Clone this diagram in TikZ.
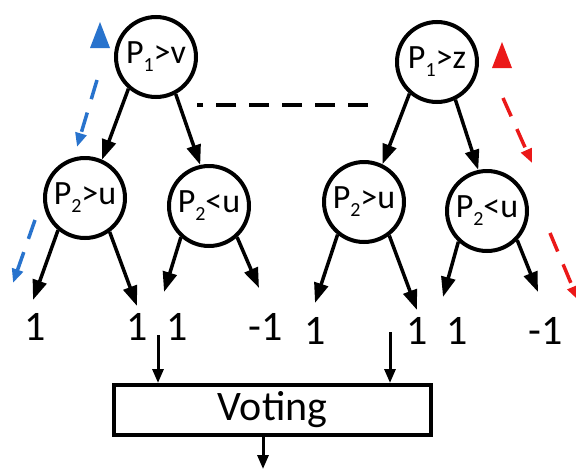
\documentclass[tikz,border=0pt]{standalone}
\usepackage{fontspec}
\setmainfont{Carlito}
\usetikzlibrary{arrows.meta}
\definecolor{myblue}{RGB}{40,115,205}
\definecolor{myred}{RGB}{235,25,25}
\newcommand{\sbs}[1]{\raisebox{-8pt}{\fontsize{20}{20}\selectfont #1}}
\begin{document}
\begin{tikzpicture}[x=1pt,y=-1pt,
  cnode/.style={circle,draw,line width=4pt,minimum size=80pt,inner sep=0pt,font=\fontsize{34}{38}\selectfont},
  leaf/.style={font=\fontsize{42}{50}\selectfont,inner sep=0pt},
  edge/.style={line width=3.5pt,-{Triangle[length=20pt,width=14pt]}},
  vin/.style={line width=3pt,-{Triangle[length=14pt,width=11pt]}},
  cdash/.style={line width=3.5pt,dash pattern=on 20pt off 14pt,-{Triangle[length=14pt,width=11pt]}}
]
\useasboundingbox (0,0) rectangle (576,469);
\clip (0,0) rectangle (576,469);
\fill[white] (0,0) rectangle (576,469);

% left tree
\node[cnode] (rl) at (156,57) {P\sbs{1}>v};
\node[cnode] (al) at (85,198) {P\sbs{2}>u};
\node[cnode] (bl) at (209,206) {P\sbs{2}<u};
% right tree
\node[cnode] (rr) at (437,62) {P\sbs{1}>z};
\node[cnode] (ar) at (364,202) {P\sbs{2}>u};
\node[cnode] (br) at (487,211) {P\sbs{2}<u};

% leaf labels
\node[leaf] (l1) at (35,327) {1};
\node[leaf] (l2) at (137,327) {1};
\node[leaf] (l3) at (177,327) {1};
\node[leaf] (l4) at (266,327) {-1};
\node[leaf] (l5) at (315,331) {1};
\node[leaf] (l6) at (417,331) {1};
\node[leaf] (l7) at (457,331) {1};
\node[leaf] (l8) at (546,331) {-1};

% arrow tips above leaves
\coordinate (t1) at (33,300);
\coordinate (t2) at (137,306);
\coordinate (t3) at (164,292);
\coordinate (t4) at (259,288);
\coordinate (t5) at (315,303);
\coordinate (t6) at (417,310);
\coordinate (t7) at (443,297);
\coordinate (t8) at (538,292);

% tree edges
\draw[edge] (rl.229) -- (al.66);
\draw[edge] (rl.298) -- (bl.102);
\draw[edge] (al.230) -- (t1);
\draw[edge] (al.306) -- (t2);
\draw[edge] (bl.228) -- (t3);
\draw[edge] (bl.312) -- (t4);

\draw[edge] (rr.229) -- (ar.64);
\draw[edge] (rr.296) -- (br.102);
\draw[edge] (ar.231) -- (t5);
\draw[edge] (ar.307) -- (t6);
\draw[edge] (br.227) -- (t7);
\draw[edge] (br.316) -- (t8);

% dashed connection between trees
\coordinate (da) at (368,105);
\coordinate (db) at (197,105);
\draw[line width=4pt,dash pattern=on 20pt off 13pt] (da) -- (db);

% voting box
\node[draw,line width=4pt,minimum width=317pt,minimum height=50pt,inner sep=0pt,
      font=\fontsize{42}{50}\selectfont] (vote) at (272.5,410) {Voting};
\coordinate (v1) at (158,335);
\coordinate (v2) at (390,332);
\coordinate (vo) at (263,469);
\draw[vin] (v1) -- (v1 |- vote.north);
\draw[vin] (v2) -- (v2 |- vote.north);
\draw[vin] (vo |- vote.south) -- (vo);

% blue path indicator
\fill[myblue] (100,22) -- (110,48) -- (90,48) -- cycle;
\coordinate (b1s) at (97,80);
\coordinate (b1e) at (77,147);
\coordinate (b2s) at (35,220);
\coordinate (b2e) at (13,283);
\draw[cdash,myblue] (b1s) -- (b1e);
\draw[cdash,myblue] (b2s) -- (b2e);

% red path indicator
\fill[myred] (502,42) -- (512,68) -- (492,68) -- cycle;
\coordinate (r1s) at (503,98);
\coordinate (r1e) at (532,163);
\coordinate (r2s) at (550,233);
\coordinate (r2e) at (578,300);
\draw[cdash,myred] (r1s) -- (r1e);
\draw[cdash,myred] (r2s) -- (r2e);
\end{tikzpicture}
\end{document}
